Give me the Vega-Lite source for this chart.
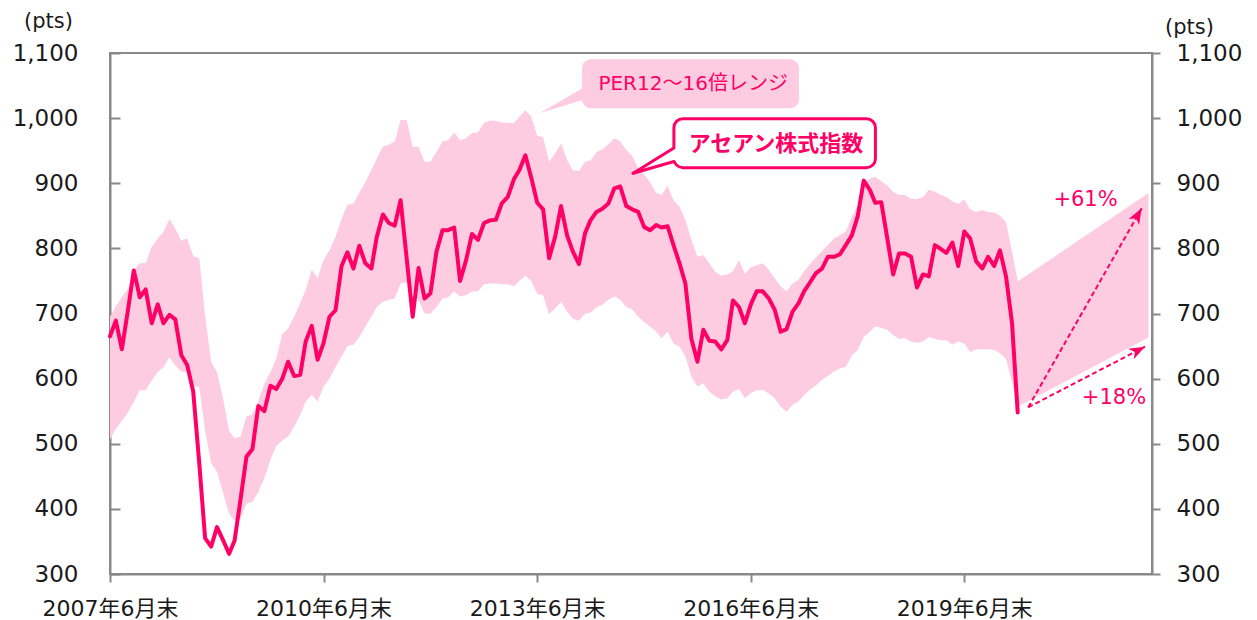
{
  "$schema": "https://vega.github.io/schema/vega-lite/v6.json",
  "width": 1042,
  "height": 521,
  "autosize": {"type": "none"},
  "padding": {"left": 110, "top": 53, "right": 105, "bottom": 46},
  "background": "white",
  "config": {
    "view": {"stroke": "#898989", "strokeWidth": 2},
    "font": "DejaVu Sans, Noto Sans CJK JP"
  },
  "datasets": {
    "main": [
      {"date":"2007-06","asean":665,"per16":695,"per12":507},
      {"date":"2007-07","asean":689,"per16":711,"per12":523},
      {"date":"2007-08","asean":645,"per16":725,"per12":535},
      {"date":"2007-09","asean":705,"per16":738,"per12":548},
      {"date":"2007-10","asean":766,"per16":766,"per12":564},
      {"date":"2007-11","asean":725,"per16":777,"per12":582},
      {"date":"2007-12","asean":737,"per16":777,"per12":582},
      {"date":"2008-01","asean":685,"per16":802,"per12":597},
      {"date":"2008-02","asean":714,"per16":815,"per12":610},
      {"date":"2008-03","asean":685,"per16":825,"per12":617},
      {"date":"2008-04","asean":698,"per16":845,"per12":633},
      {"date":"2008-05","asean":691,"per16":830,"per12":620},
      {"date":"2008-06","asean":636,"per16":812,"per12":611},
      {"date":"2008-07","asean":621,"per16":815,"per12":610},
      {"date":"2008-08","asean":580,"per16":788,"per12":589},
      {"date":"2008-09","asean":470,"per16":785,"per12":587},
      {"date":"2008-10","asean":355,"per16":697,"per12":520},
      {"date":"2008-11","asean":342,"per16":626,"per12":470},
      {"date":"2008-12","asean":372,"per16":610,"per12":457},
      {"date":"2009-01","asean":352,"per16":569,"per12":425},
      {"date":"2009-02","asean":331,"per16":520,"per12":392},
      {"date":"2009-03","asean":351,"per16":508,"per12":382},
      {"date":"2009-04","asean":415,"per16":511,"per12":385},
      {"date":"2009-05","asean":480,"per16":542,"per12":408},
      {"date":"2009-06","asean":492,"per16":545,"per12":411},
      {"date":"2009-07","asean":558,"per16":566,"per12":426},
      {"date":"2009-08","asean":550,"per16":592,"per12":447},
      {"date":"2009-09","asean":589,"per16":610,"per12":475},
      {"date":"2009-10","asean":584,"per16":631,"per12":497},
      {"date":"2009-11","asean":600,"per16":668,"per12":505},
      {"date":"2009-12","asean":626,"per16":677,"per12":511},
      {"date":"2010-01","asean":604,"per16":695,"per12":526},
      {"date":"2010-02","asean":606,"per16":716,"per12":544},
      {"date":"2010-03","asean":657,"per16":736,"per12":565},
      {"date":"2010-04","asean":681,"per16":767,"per12":575},
      {"date":"2010-05","asean":629,"per16":754,"per12":565},
      {"date":"2010-06","asean":655,"per16":782,"per12":588},
      {"date":"2010-07","asean":695,"per16":797,"per12":600},
      {"date":"2010-08","asean":705,"per16":818,"per12":618},
      {"date":"2010-09","asean":773,"per16":845,"per12":634},
      {"date":"2010-10","asean":794,"per16":867,"per12":650},
      {"date":"2010-11","asean":769,"per16":869,"per12":652},
      {"date":"2010-12","asean":804,"per16":885,"per12":664},
      {"date":"2011-01","asean":777,"per16":902,"per12":680},
      {"date":"2011-02","asean":769,"per16":920,"per12":695},
      {"date":"2011-03","asean":818,"per16":938,"per12":710},
      {"date":"2011-04","asean":852,"per16":956,"per12":718},
      {"date":"2011-05","asean":839,"per16":959,"per12":721},
      {"date":"2011-06","asean":835,"per16":964,"per12":723},
      {"date":"2011-07","asean":874,"per16":997,"per12":746},
      {"date":"2011-08","asean":785,"per16":997,"per12":748},
      {"date":"2011-09","asean":695,"per16":956,"per12":735},
      {"date":"2011-10","asean":770,"per16":956,"per12":720},
      {"date":"2011-11","asean":723,"per16":933,"per12":700},
      {"date":"2011-12","asean":731,"per16":933,"per12":700},
      {"date":"2012-01","asean":795,"per16":948,"per12":710},
      {"date":"2012-02","asean":828,"per16":964,"per12":723},
      {"date":"2012-03","asean":828,"per16":966,"per12":725},
      {"date":"2012-04","asean":832,"per16":978,"per12":734},
      {"date":"2012-05","asean":750,"per16":966,"per12":726},
      {"date":"2012-06","asean":782,"per16":969,"per12":728},
      {"date":"2012-07","asean":822,"per16":977,"per12":734},
      {"date":"2012-08","asean":813,"per16":978,"per12":734},
      {"date":"2012-09","asean":839,"per16":993,"per12":745},
      {"date":"2012-10","asean":843,"per16":996,"per12":746},
      {"date":"2012-11","asean":844,"per16":996,"per12":746},
      {"date":"2012-12","asean":869,"per16":993,"per12":745},
      {"date":"2013-01","asean":879,"per16":993,"per12":745},
      {"date":"2013-02","asean":906,"per16":992,"per12":742},
      {"date":"2013-03","asean":920,"per16":1002,"per12":750},
      {"date":"2013-04","asean":943,"per16":1012,"per12":758},
      {"date":"2013-05","asean":909,"per16":1002,"per12":750},
      {"date":"2013-06","asean":870,"per16":973,"per12":730},
      {"date":"2013-07","asean":860,"per16":971,"per12":728},
      {"date":"2013-08","asean":785,"per16":933,"per12":699},
      {"date":"2013-09","asean":818,"per16":946,"per12":708},
      {"date":"2013-10","asean":865,"per16":961,"per12":718},
      {"date":"2013-11","asean":820,"per16":936,"per12":703},
      {"date":"2013-12","asean":795,"per16":920,"per12":692},
      {"date":"2014-01","asean":776,"per16":919,"per12":689},
      {"date":"2014-02","asean":823,"per16":933,"per12":700},
      {"date":"2014-03","asean":843,"per16":935,"per12":701},
      {"date":"2014-04","asean":856,"per16":948,"per12":710},
      {"date":"2014-05","asean":861,"per16":952,"per12":713},
      {"date":"2014-06","asean":869,"per16":960,"per12":721},
      {"date":"2014-07","asean":892,"per16":969,"per12":726},
      {"date":"2014-08","asean":895,"per16":964,"per12":721},
      {"date":"2014-09","asean":865,"per16":951,"per12":710},
      {"date":"2014-10","asean":860,"per16":942,"per12":706},
      {"date":"2014-11","asean":856,"per16":923,"per12":695},
      {"date":"2014-12","asean":833,"per16":913,"per12":687},
      {"date":"2015-01","asean":828,"per16":902,"per12":680},
      {"date":"2015-02","asean":836,"per16":885,"per12":672},
      {"date":"2015-03","asean":832,"per16":882,"per12":662},
      {"date":"2015-04","asean":834,"per16":896,"per12":672},
      {"date":"2015-05","asean":805,"per16":874,"per12":654},
      {"date":"2015-06","asean":777,"per16":864,"per12":649},
      {"date":"2015-07","asean":746,"per16":844,"per12":634},
      {"date":"2015-08","asean":661,"per16":813,"per12":603},
      {"date":"2015-09","asean":626,"per16":787,"per12":588},
      {"date":"2015-10","asean":675,"per16":790,"per12":593},
      {"date":"2015-11","asean":658,"per16":777,"per12":580},
      {"date":"2015-12","asean":657,"per16":764,"per12":573},
      {"date":"2016-01","asean":645,"per16":758,"per12":568},
      {"date":"2016-02","asean":659,"per16":760,"per12":570},
      {"date":"2016-03","asean":720,"per16":765,"per12":580},
      {"date":"2016-04","asean":710,"per16":782,"per12":584},
      {"date":"2016-05","asean":685,"per16":761,"per12":570},
      {"date":"2016-06","asean":714,"per16":771,"per12":578},
      {"date":"2016-07","asean":734,"per16":774,"per12":582},
      {"date":"2016-08","asean":734,"per16":777,"per12":583},
      {"date":"2016-09","asean":723,"per16":767,"per12":577},
      {"date":"2016-10","asean":706,"per16":754,"per12":570},
      {"date":"2016-11","asean":672,"per16":742,"per12":557},
      {"date":"2016-12","asean":676,"per16":734,"per12":549},
      {"date":"2017-01","asean":703,"per16":746,"per12":560},
      {"date":"2017-02","asean":716,"per16":752,"per12":565},
      {"date":"2017-03","asean":734,"per16":765,"per12":575},
      {"date":"2017-04","asean":748,"per16":776,"per12":583},
      {"date":"2017-05","asean":762,"per16":786,"per12":590},
      {"date":"2017-06","asean":769,"per16":796,"per12":598},
      {"date":"2017-07","asean":787,"per16":805,"per12":604},
      {"date":"2017-08","asean":787,"per16":815,"per12":611},
      {"date":"2017-09","asean":791,"per16":820,"per12":616},
      {"date":"2017-10","asean":805,"per16":826,"per12":618},
      {"date":"2017-11","asean":820,"per16":849,"per12":636},
      {"date":"2017-12","asean":849,"per16":865,"per12":644},
      {"date":"2018-01","asean":904,"per16":900,"per12":664},
      {"date":"2018-02","asean":890,"per16":907,"per12":672},
      {"date":"2018-03","asean":870,"per16":910,"per12":680},
      {"date":"2018-04","asean":871,"per16":903,"per12":678},
      {"date":"2018-05","asean":817,"per16":897,"per12":675},
      {"date":"2018-06","asean":760,"per16":887,"per12":667},
      {"date":"2018-07","asean":792,"per16":882,"per12":661},
      {"date":"2018-08","asean":792,"per16":882,"per12":662},
      {"date":"2018-09","asean":787,"per16":876,"per12":657},
      {"date":"2018-10","asean":740,"per16":876,"per12":655},
      {"date":"2018-11","asean":760,"per16":879,"per12":657},
      {"date":"2018-12","asean":757,"per16":890,"per12":664},
      {"date":"2019-01","asean":805,"per16":887,"per12":661},
      {"date":"2019-02","asean":799,"per16":882,"per12":659},
      {"date":"2019-03","asean":793,"per16":879,"per12":659},
      {"date":"2019-04","asean":809,"per16":872,"per12":652},
      {"date":"2019-05","asean":773,"per16":868,"per12":657},
      {"date":"2019-06","asean":826,"per16":875,"per12":654},
      {"date":"2019-07","asean":815,"per16":860,"per12":641},
      {"date":"2019-08","asean":780,"per16":856,"per12":645},
      {"date":"2019-09","asean":769,"per16":859,"per12":645},
      {"date":"2019-10","asean":787,"per16":856,"per12":645},
      {"date":"2019-11","asean":773,"per16":855,"per12":644},
      {"date":"2019-12","asean":797,"per16":850,"per12":639},
      {"date":"2020-01","asean":757,"per16":840,"per12":630},
      {"date":"2020-02","asean":685,"per16":795,"per12":595},
      {"date":"2020-03","asean":548,"per16":749,"per12":557},
      {"date":"2022-01","per16":885,"per12":663}
    ]
  },
  "encoding": {
    "x": {
      "field": "date", "type": "temporal",
      "scale": {"type": "utc", "nice": false, "domain": ["2007-06-01", "2022-01-19"]},
      "axis": {
        "title": null, "grid": false,
        "values": ["2007-06-01", "2010-06-01", "2013-06-01", "2016-06-01", "2019-06-01"],
        "labelExpr": "utcFormat(datum.value, '%Y') + '年6月末'",
        "labelFontSize": 22, "labelColor": "#1a1a1a", "labelFlush": false, "labelOverlap": false,
        "labelBaseline": "middle", "labelPadding": 26,
        "tickSize": 8, "tickWidth": 2, "tickColor": "#898989",
        "domainColor": "#898989", "domainWidth": 2
      }
    }
  },
  "resolve": {"axis": {"y": "independent"}},
  "layer": [
    {
      "data": {"name": "main"},
      "mark": {"type": "area", "color": "#FDCCE0", "opacity": 1},
      "encoding": {
        "y": {
          "field": "per16", "type": "quantitative",
          "scale": {"domain": [300, 1100], "nice": false, "zero": false},
          "axis": {
            "orient": "left", "grid": false,
            "values": [300, 400, 500, 600, 700, 800, 900, 1000, 1100],
            "format": ",d", "labelFontSize": 23, "labelColor": "#1a1a1a",
            "tickSize": -10, "tickWidth": 2, "tickColor": "#898989", "labelPadding": 42,
            "domainColor": "#898989", "domainWidth": 2,
            "title": "(pts)", "titleAngle": 0, "titleFontSize": 21, "titleFontWeight": "normal", "titleColor": "#1a1a1a",
            "titleAlign": "center", "titleBaseline": "middle", "titleX": -62, "titleY": -32
          }
        },
        "y2": {"field": "per12"}
      }
    },
    {
      "data": {"name": "main"},
      "mark": {"type": "line", "color": "#FF0066", "strokeWidth": 4, "strokeJoin": "round", "strokeCap": "round"},
      "encoding": {
        "y": {
          "field": "asean", "type": "quantitative",
          "axis": {
            "orient": "right", "grid": false,
            "values": [300, 400, 500, 600, 700, 800, 900, 1000, 1100],
            "format": ",d", "labelFontSize": 23, "labelColor": "#1a1a1a",
            "tickSize": 8, "tickWidth": 2, "tickColor": "#898989", "labelPadding": 16,
            "domainColor": "#898989", "domainWidth": 2,
            "title": "(pts)", "titleAngle": 0, "titleFontSize": 21, "titleFontWeight": "normal", "titleColor": "#1a1a1a",
            "titleAlign": "center", "titleBaseline": "middle", "titleX": 37, "titleY": -26
          }
        }
      }
    },
    {
      "data": {"values": [
        {"date": "2013-06-15", "top": 1007.9, "bottom": 1007.9},
        {"date": "2014-02-26", "top": 1052.4, "bottom": 1031.4}
      ]},
      "mark": {"type": "area", "color": "#FDCCE0", "opacity": 1},
      "encoding": {
        "y": {"field": "top", "type": "quantitative", "axis": null},
        "y2": {"field": "bottom"}
      }
    },
    {
      "data": {"values": [{"date": "2014-01-17", "date2": "2017-02-03", "top": 1090.3, "bottom": 1015.1}]},
      "mark": {"type": "rect", "color": "#FDCCE0", "cornerRadius": 9},
      "encoding": {
        "x2": {"field": "date2"},
        "y": {"field": "top", "type": "quantitative", "axis": null},
        "y2": {"field": "bottom"}
      }
    },
    {
      "data": {"values": [{"date": "2015-08-10", "value": 1053}]},
      "mark": {"type": "text", "text": "PER12～16倍レンジ", "fontSize": 20, "color": "#FF0066", "align": "center", "baseline": "middle"},
      "encoding": {
        "y": {"field": "value", "type": "quantitative", "axis": null}
      }
    },
    {
      "data": {"values": [{"date": "2015-05-03", "date2": "2018-03-02", "top": 999.1, "bottom": 923.9}]},
      "mark": {"type": "rect", "fill": "white", "stroke": "#FF0066", "strokeWidth": 3, "cornerRadius": 9},
      "encoding": {
        "x2": {"field": "date2"},
        "y": {"field": "top", "type": "quantitative", "axis": null},
        "y2": {"field": "bottom"}
      }
    },
    {
      "data": {"values": [
        {"date": "2014-10-06", "top": 915.3, "bottom": 915.3},
        {"date": "2015-05-24", "top": 958, "bottom": 935.2}
      ]},
      "mark": {"type": "area", "color": "white", "opacity": 1},
      "encoding": {
        "y": {"field": "top", "type": "quantitative", "axis": null},
        "y2": {"field": "bottom"}
      }
    },
    {
      "data": {"values": [
        {"date": "2014-10-06", "date2": "2015-05-03", "v1": 915.3, "v2": 954.1},
        {"date": "2014-10-06", "date2": "2015-05-03", "v1": 915.3, "v2": 933.4}
      ]},
      "mark": {"type": "rule", "color": "#FF0066", "strokeWidth": 3, "strokeCap": "round"},
      "encoding": {
        "x2": {"field": "date2"},
        "y": {"field": "v1", "type": "quantitative", "axis": null},
        "y2": {"field": "v2"}
      }
    },
    {
      "data": {"values": [{"date": "2016-10-08", "value": 961}]},
      "mark": {"type": "text", "text": "アセアン株式指数", "fontSize": 22, "fontWeight": "bold", "color": "#FF0066", "align": "center", "baseline": "middle"},
      "encoding": {
        "y": {"field": "value", "type": "quantitative", "axis": null}
      }
    },
    {
      "data": {"values": [
        {"date": "2020-04-24", "date2": "2021-11-27", "v1": 556, "v2": 861.5},
        {"date": "2020-04-24", "date2": "2021-12-14", "v1": 556, "v2": 649}
      ]},
      "mark": {"type": "rule", "color": "#FF0066", "strokeWidth": 2, "strokeDash": [5, 3]},
      "encoding": {
        "x2": {"field": "date2"},
        "y": {"field": "v1", "type": "quantitative", "axis": null},
        "y2": {"field": "v2"}
      }
    },
    {
      "data": {"values": [{"date": "2021-11-27", "value": 861.5}]},
      "mark": {"type": "point", "shape": "M0,0 L-1,-0.38 L-0.72,0 L-1,0.38 Z", "size": 1000, "filled": true, "color": "#FF0066", "opacity": 1, "angle": 299.7},
      "encoding": {
        "y": {"field": "value", "type": "quantitative", "axis": null}
      }
    },
    {
      "data": {"values": [{"date": "2021-12-14", "value": 649}]},
      "mark": {"type": "point", "shape": "M0,0 L-1,-0.38 L-0.72,0 L-1,0.38 Z", "size": 1000, "filled": true, "color": "#FF0066", "opacity": 1, "angle": 332.6},
      "encoding": {
        "y": {"field": "value", "type": "quantitative", "axis": null}
      }
    },
    {
      "data": {"values": [
        {"date": "2021-02-12", "value": 874.7, "label": "+61%"},
        {"date": "2021-07-08", "value": 571, "label": "+18%"}
      ]},
      "mark": {"type": "text", "fontSize": 21, "color": "#FF0066", "align": "center", "baseline": "middle"},
      "encoding": {
        "y": {"field": "value", "type": "quantitative", "axis": null},
        "text": {"field": "label"}
      }
    }
  ]
}
